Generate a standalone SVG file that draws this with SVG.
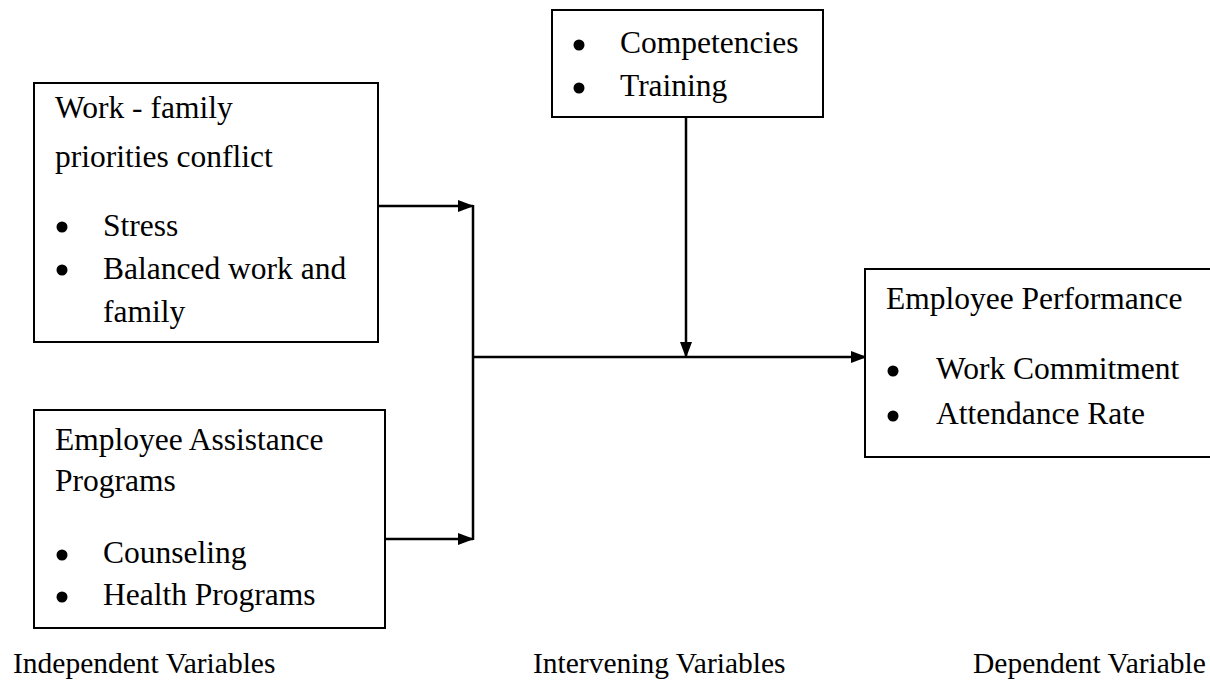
<svg xmlns="http://www.w3.org/2000/svg" width="1210" height="681" viewBox="0 0 1210 681">
<style>
.box{fill:#fff;stroke:#000;stroke-width:2}
.t{font-family:"Liberation Serif","Times New Roman",serif;font-size:31.5px;fill:#000}
.lbl{font-family:"Liberation Serif","Times New Roman",serif;font-size:29.5px;fill:#000}
.c{fill:none;stroke:#000;stroke-width:2.5}
.b{fill:#000}
</style>
<defs>
<marker id="ah" markerWidth="16" markerHeight="12" refX="15" refY="6" orient="auto" markerUnits="userSpaceOnUse">
<path d="M0,0 L16,6 L0,12 Z" fill="#000"/>
</marker>
</defs>
<g id="connectors">
<path class="c" d="M378,206 H473" marker-end="url(#ah)"/>
<path class="c" d="M386,539 H473" marker-end="url(#ah)"/>
<path class="c" d="M473,205 V540"/>
<path class="c" d="M473,357 H866" marker-end="url(#ah)"/>
<path class="c" d="M686,117 V357" marker-end="url(#ah)"/>
</g>
<g id="node-workfamily">
<rect class="box" x="34" y="83" width="344" height="259"/>
<text class="t" x="55" y="118">Work - family</text>
<text class="t" x="55" y="167">priorities conflict</text>
<circle class="b" cx="62" cy="227" r="5.5"/>
<text class="t" x="103" y="236">Stress</text>
<circle class="b" cx="62" cy="270" r="5.5"/>
<text class="t" x="103" y="279">Balanced work and</text>
<text class="t" x="103" y="322">family</text>
</g>
<g id="node-eap">
<rect class="box" x="34" y="410" width="351" height="218"/>
<text class="t" x="55" y="450">Employee Assistance</text>
<text class="t" x="55" y="491">Programs</text>
<circle class="b" cx="62" cy="555" r="5.5"/>
<text class="t" x="103" y="563">Counseling</text>
<circle class="b" cx="62" cy="597" r="5.5"/>
<text class="t" x="103" y="605">Health Programs</text>
</g>
<g id="node-intervening">
<rect class="box" x="552" y="10" width="271" height="107"/>
<circle class="b" cx="579" cy="45" r="5.5"/>
<text class="t" x="620" y="53">Competencies</text>
<circle class="b" cx="579" cy="88" r="5.5"/>
<text class="t" x="620" y="96">Training</text>
</g>
<g id="node-performance">
<rect class="box" x="865" y="269" width="360" height="188"/>
<text class="t" x="886" y="309">Employee Performance</text>
<circle class="b" cx="893" cy="371" r="5.5"/>
<text class="t" x="936" y="379">Work Commitment</text>
<circle class="b" cx="893" cy="416" r="5.5"/>
<text class="t" x="936" y="424">Attendance Rate</text>
</g>
<g id="labels">
<text class="lbl" x="13" y="673">Independent Variables</text>
<text class="lbl" x="533" y="673">Intervening Variables</text>
<text class="lbl" x="973" y="673">Dependent Variable</text>
</g>
</svg>
